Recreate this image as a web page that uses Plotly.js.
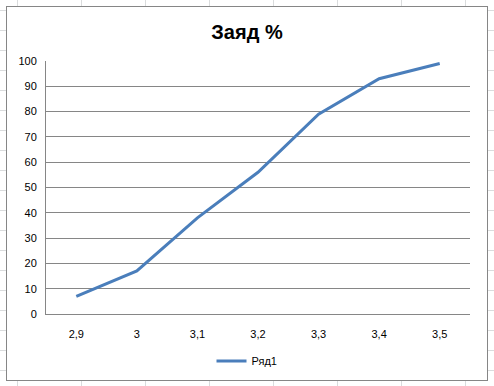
<!DOCTYPE html>
<html>
<head>
<meta charset="utf-8">
<script src="https://cdn.plot.ly/plotly-3.0.1.min.js"></script>
<style>
  html, body { margin:0; padding:0; }
  body {
    width:494px; height:386px; overflow:hidden;
    background-color:#ffffff;
    background-image:
      repeating-linear-gradient(to right, transparent 0, transparent 17px, #dadcdd 17px, #dadcdd 18px, transparent 18px, transparent 64px),
      repeating-linear-gradient(to bottom, transparent 0, transparent 10px, #dadcdd 10px, #dadcdd 11px, transparent 11px, transparent 20px);
    background-position: 0 0, 0 0;
  }
  #box {
    position:absolute; left:6px; top:6px; width:480px; height:373px;
    border:1px solid #868686; background:#ffffff;
  }
  #chart { width:480px; height:373px; }
</style>
</head>
<body>
<div id="box"><div id="chart"></div></div>
<script>
const categories = ["2,9", "3", "3,1", "3,2", "3,3", "3,4", "3,5"];
const seriesName = "Ряд1";
const seriesValues = [7, 17, 38, 56, 79, 93, 99];
const yTicks = [0, 10, 20, 30, 40, 50, 60, 70, 80, 90, 100];
const chartTitle = "Заяд %";

const trace = {
  x: categories,
  y: seriesValues,
  type: "scatter",
  mode: "lines",
  name: seriesName,
  line: { color: "#4a7ebb", width: 3 }
};

const layout = {
  width: 480, height: 373,
  margin: { l: 39, r: 17, t: 54, b: 66 },
  paper_bgcolor: "rgba(0,0,0,0)",
  plot_bgcolor: "#ffffff",
  font: { family: "Liberation Sans, Arial, sans-serif", size: 11, color: "#000000" },
  title: {
    text: "<b>" + chartTitle + "</b>",
    font: { family: "Liberation Sans, Arial, sans-serif", size: 20, color: "#000000" },
    x: 0.5, xanchor: "center",
    y: 0.933, yanchor: "middle", yref: "container"
  },
  xaxis: {
    type: "category",
    range: [-0.5, categories.length - 0.5],
    showgrid: false,
    showline: true, linecolor: "#868686", linewidth: 1,
    zeroline: false,
    ticks: "outside", ticklen: 10, tickcolor: "rgba(0,0,0,0)",
    tickfont: { size: 11, color: "#000000" },
    fixedrange: true
  },
  yaxis: {
    range: [0, 100],
    tickvals: yTicks,
    showgrid: true, gridcolor: "#868686", gridwidth: 1,
    showline: true, linecolor: "#868686", linewidth: 1,
    zeroline: false,
    ticks: "outside", ticklen: 6, tickcolor: "rgba(0,0,0,0)",
    tickfont: { size: 11, color: "#000000" },
    fixedrange: true
  },
  showlegend: true,
  legend: {
    orientation: "h",
    xref: "container", yref: "container",
    x: 0.5, xanchor: "center",
    y: 0.051, yanchor: "middle",
    font: { size: 11, color: "#000000" },
    bgcolor: "rgba(0,0,0,0)"
  }
};

Plotly.newPlot("chart", [trace], layout, { displayModeBar: false, staticPlot: true });
</script>
</body>
</html>
